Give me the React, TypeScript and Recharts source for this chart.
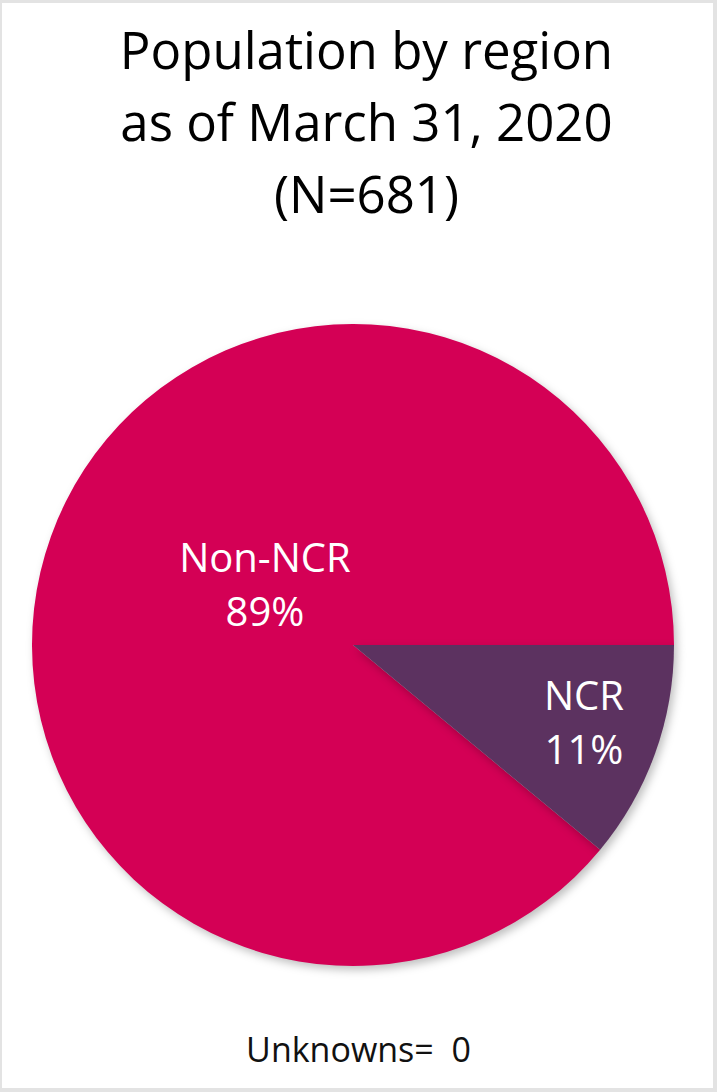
import { PieChart, Pie, Cell } from 'recharts';

const regions = ['Non-NCR', 'NCR'];
const counts = [606, 75];
const percents = [89, 11];
const colors = ['#D40055', '#5C3260'];
const titleLines = ['Population by region', 'as of March 31, 2020', '(N=681)'];
const footnote = 'Unknowns=  0';

const data = regions.map((name, i) => ({ name, value: counts[i], pct: percents[i] }));

const FONT = '"Open Sans", "Noto Sans", sans-serif';

// where each label sits, relative to the pie centre (radius in px, angle tweak in deg)
const labelPlace = {
  'Non-NCR': { r: 106, tweak: -14 },
  NCR: { r: 244, tweak: 1 },
};

const RADIAN = Math.PI / 180;

const renderLabel = (props) => {
  const { cx, cy, midAngle, payload } = props;
  const place = labelPlace[payload.name];
  const a = (midAngle + place.tweak) * RADIAN;
  const x = cx + place.r * Math.cos(a);
  const y = cy - place.r * Math.sin(a);
  return (
    <text x={x} y={y} fill="#fff" textAnchor="middle" fontFamily={FONT} fontSize={40}>
      <tspan x={x} dy={-14}>{payload.name}</tspan>
      <tspan x={x} dy={54}>{payload.pct}%</tspan>
    </text>
  );
};

const App = () => {
  return (
    <div
      style={{
        position: 'absolute',
        left: 0,
        top: 0,
        width: 717,
        height: 1092,
        boxSizing: 'border-box',
        background: '#fff',
        borderTop: '3px solid #e3e3e3',
        borderLeft: '2px solid #e3e3e3',
        borderRight: '4px solid #e3e3e3',
        borderBottom: '4px solid #e3e3e3',
        fontFamily: FONT,
        overflow: 'hidden',
      }}
    >
      <div style={{ position: 'absolute', left: 6, top: -3, width: 717 }}>
        {titleLines.map((t, i) => (
          <div
            key={t}
            style={{
              position: 'absolute',
              left: 0,
              width: 717,
              top: 17 + i * 72,
              textAlign: 'center',
              fontSize: 51,
              lineHeight: '64px',
              color: '#000',
            }}
          >
            {t}
          </div>
        ))}
      </div>
      <div style={{ position: 'absolute', left: -2, top: -3 }}>
        <PieChart width={717} height={1092} margin={{ top: 0, right: 0, bottom: 0, left: 0 }}>
          <Pie
            data={data}
            dataKey="value"
            nameKey="name"
            cx={353}
            cy={645}
            outerRadius={321}
            startAngle={0}
            endAngle={360}
            stroke="none"
            labelLine={false}
            label={renderLabel}
            isAnimationActive={false}
          >
            {data.map((d, i) => (
              <Cell
                key={d.name}
                fill={colors[i]}
                style={{ filter: 'drop-shadow(3px 4px 4px rgba(0,0,0,0.25))' }}
              />
            ))}
          </Pie>
        </PieChart>
      </div>
      <div
        style={{
          position: 'absolute',
          left: -2,
          width: 717,
          top: 1024,
          textAlign: 'center',
          fontSize: 34,
          lineHeight: '44px',
          whiteSpace: 'pre',
          color: '#111',
        }}
      >
        {footnote}
      </div>
    </div>
  );
};

export default App;
